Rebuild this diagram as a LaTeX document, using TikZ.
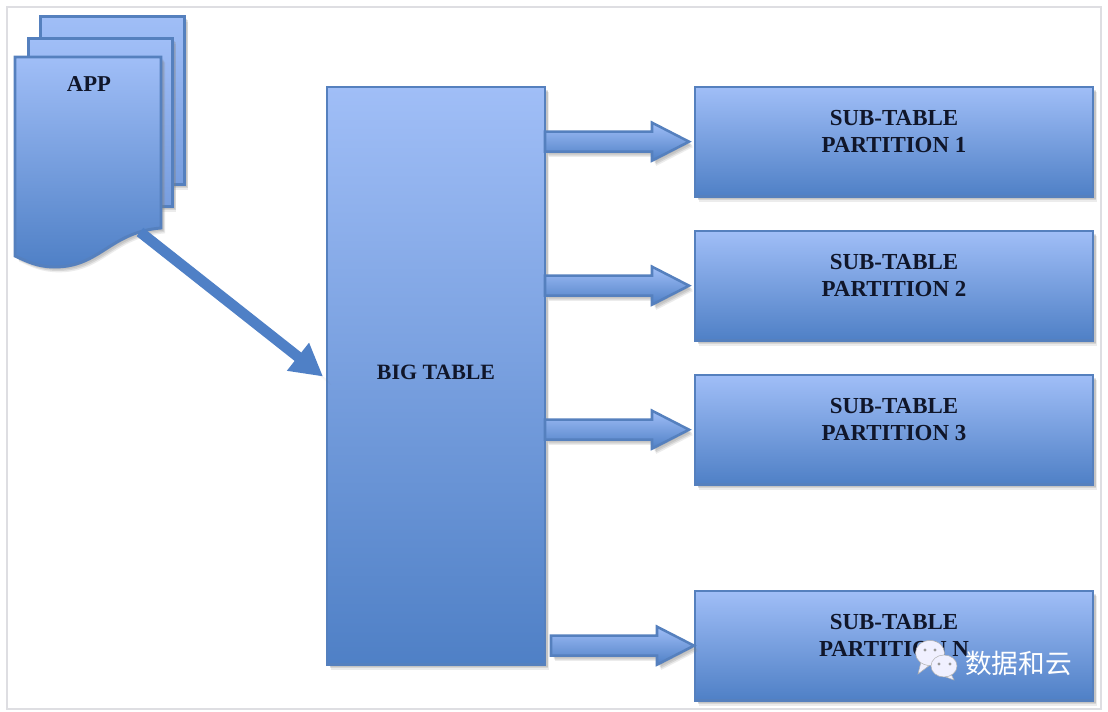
\documentclass[tikz,border=0pt]{standalone}
\usepackage{fontspec}
\setmainfont{Liberation Serif}
\newfontfamily\cjk{Noto Sans CJK SC}
\usetikzlibrary{arrows.meta, positioning, calc, shadows}
\definecolor{tableTop}{HTML}{A0BEF7}
\definecolor{tableMid}{HTML}{7FA3E3}
\definecolor{tableLow}{HTML}{4F80C6}
\definecolor{tableEdge}{HTML}{5580BE}
\definecolor{frameGray}{HTML}{DEDEE2}
\definecolor{labelDark}{HTML}{10162A}
\tikzset{
  softShadow/.style={drop shadow={opacity=.2, shadow xshift=1pt, shadow yshift=-1pt},
                     drop shadow={opacity=.2, shadow xshift=2pt, shadow yshift=-2pt},
                     drop shadow={opacity=.2, shadow xshift=2.5pt, shadow yshift=-3pt},
                     drop shadow={opacity=.15, shadow xshift=3pt, shadow yshift=-4pt}},
  tableBox/.style={rectangle, draw=tableEdge, line width=2.2pt, softShadow, outer sep=0pt,
                   top color=tableTop, middle color=tableMid, bottom color=tableLow,
                   align=center, text=labelDark, inner sep=0pt},
  subBox/.style={tableBox, minimum width=298.5pt, minimum height=82pt, text depth=15.5pt,
                 font=\bfseries\fontsize{17.2}{20.25}\selectfont},
  backPage/.style={rectangle, draw=tableEdge, line width=2.2pt, softShadow, anchor=north west,
                   top color=tableTop, bottom color=tableMid!85!tableLow,
                   minimum width=108pt, minimum height=126pt, inner sep=0pt},
  arrowL/.style={-{Triangle[length=24pt, width=25pt]}, tableLow, line width=8pt,
                 shorten >=3.75pt, softShadow},
  arrowB/.style={draw=tableEdge, line width=1.9pt, miter limit=8, softShadow,
                 top color=tableTop, bottom color=tableLow,
                 to path={($(\tikztostart)+(0,-10)$) -- ($(\tikztotarget)+(-37,-10)$)
                   -- ($(\tikztotarget)+(-37,-19)$) -- (\tikztotarget)
                   -- ($(\tikztotarget)+(-37,19)$) -- ($(\tikztotarget)+(-37,10)$)
                   -- ($(\tikztostart)+(0,10)$) -- cycle}},
  chatBubble/.style={fill=white!94!blue, draw=gray!60, line width=.4pt},
  chatEye/.style={circle, fill=gray!80, inner sep=0pt, minimum size=2.6pt},
}
\begin{document}
\begin{tikzpicture}[x=.75pt, y=-.75pt]
  \useasboundingbox (0,0) rectangle (1108,712);
  \fill[white] (0,0) rectangle (1108,712);
  \draw[frameGray, line width=1.8pt] (7,7) rectangle (1101,709);

  % stacked pages
  \node[backPage] (page3) at (39,15) {};
  \node[backPage] (page2) at (27,37) {};
  \coordinate (docTail) at (140,232);
  \draw[draw=tableEdge, line width=2.2pt, softShadow, top color=tableTop,
        middle color=tableMid, bottom color=tableLow]
    (15,57) -- (161,57) -- (161,228)
    .. controls (110,232) and (100,267) .. (55,267)
    .. controls (38,267) and (28,262) .. (15,256) -- cycle;
  \node[text=labelDark, font=\bfseries\fontsize{17}{20.25}\selectfont] (app) at (89,84) {APP};

  % table and its partitions
  \node[tableBox, minimum width=163.5pt, minimum height=433pt, anchor=north west, text depth=5pt,
        font=\bfseries\fontsize{16.4}{20.25}\selectfont] (big) at (327,87) {BIG TABLE};
  \node[subBox, anchor=north west] (sub1) at (695,87) {SUB-TABLE\\PARTITION 1};
  \node[subBox, below=26pt of sub1] (sub2) {SUB-TABLE\\PARTITION 2};
  \node[subBox, below=26pt of sub2] (sub3) {SUB-TABLE\\PARTITION 3};
  \node[subBox, below=80pt of sub3] (sub4) {SUB-TABLE\\PARTITION N};

  \draw[arrowL] (docTail) -- ([yshift=-3pt]big.west);
  \draw[arrowB] (big.east |- sub1.west) to ([xshift=-4.5pt]sub1.west);
  \draw[arrowB] (big.east |- sub2.west) to ([xshift=-4.5pt]sub2.west);
  \draw[arrowB] (big.east |- sub3.west) to ([xshift=-4.5pt]sub3.west);
  \draw[arrowB] ([xshift=4.5pt]big.east |- sub4.west) to ([xshift=-.75pt]sub4.west);

  % watermark
  \draw[chatBubble] (921,662) -- (918,674) -- (930,665) -- cycle;
  \draw[chatBubble] (930,653) ellipse [x radius=14.5, y radius=12.5];
  \draw[chatBubble] (950,672) -- (954,680) -- (943,676) -- cycle;
  \draw[chatBubble] (944,666) ellipse [x radius=13, y radius=11];
  \node[chatEye] (eye1) at (925,650) {};
  \node[chatEye] (eye2) at (935,650) {};
  \node[chatEye] (eye3) at (939,664) {};
  \node[chatEye] (eye4) at (950,664) {};
  \node[text=white, font=\cjk\fontsize{20}{24}\selectfont, inner sep=0pt, anchor=west] (mark) at (965,663) {数据和云};
\end{tikzpicture}
\end{document}
